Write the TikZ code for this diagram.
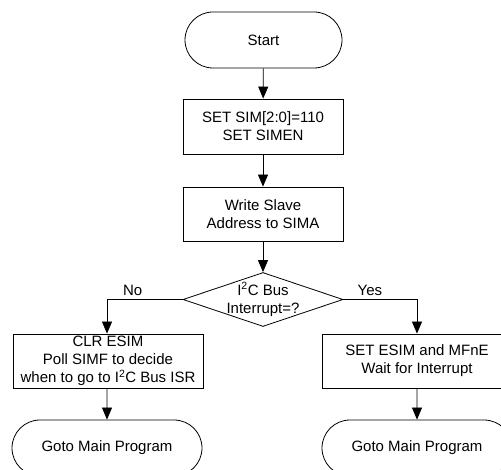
\documentclass[tikz,border=0pt]{standalone}
\usepackage{fontspec}
\setmainfont{Liberation Sans}
\usepackage{tikz}
\usetikzlibrary{shapes.geometric, shapes.misc, arrows.meta, positioning, calc}

\begin{document}
\begin{tikzpicture}[
    x=1pt, y=-1pt,
    font=\fontsize{15}{18}\selectfont,
    term/.style={rounded rectangle, draw, line width=0.8pt, minimum height=56pt, inner sep=0pt},
    proc/.style={rectangle, draw, line width=0.8pt, align=center, minimum height=54pt, inner sep=0pt},
    decide/.style={diamond, draw, line width=0.8pt, minimum width=160pt, minimum height=54pt, inner sep=0pt},
    arrow/.style={-{Triangle[length=12pt,width=10pt]}, line width=0.8pt}
]
\useasboundingbox (0,0) rectangle (501,470);
\clip (0,0) rectangle (501,470);

\node[term, minimum width=157pt] (start) at (263.5,40) {Start};
\node[proc, minimum width=160pt, minimum height=55pt] (sim) at (263,126.5) {SET SIM[2:0]=110\\SET SIMEN};
\node[proc, minimum width=160pt] (addr) at (263,214) {Write Slave\\Address to SIMA};
\node[decide, label={[align=center]center:I\textsuperscript{2}C Bus\\Interrupt=?}] (irq) at (263,299.5) {};
\node[proc, minimum width=190pt] (clr) at (108,361) {CLR ESIM\\Poll SIMF to decide\\when to go to I\textsuperscript{2}C Bus ISR};
\node[proc, minimum width=190pt] (wait) at (417,361) {SET ESIM and MFnE\\Wait for Interrupt};
\node[term, minimum width=190pt] (mainL) at (107,448) {Goto Main Program};
\node[term, minimum width=190pt] (mainR) at (417,448) {Goto Main Program};

\draw[arrow] (start) -- (sim);
\draw[arrow] (sim) -- (addr);
\draw[arrow] (addr) -- (irq);
\draw[arrow] (irq.west) -| node[pos=0.33, above] {No} (mainL.north |- clr.north);
\draw[arrow] (irq.east) -| node[pos=0.18, above] {Yes} (mainR.north |- wait.north);
\draw[arrow] (mainL.north |- clr.south) -- (mainL);
\draw[arrow] (mainR.north |- wait.south) -- (mainR);
\end{tikzpicture}
\end{document}
